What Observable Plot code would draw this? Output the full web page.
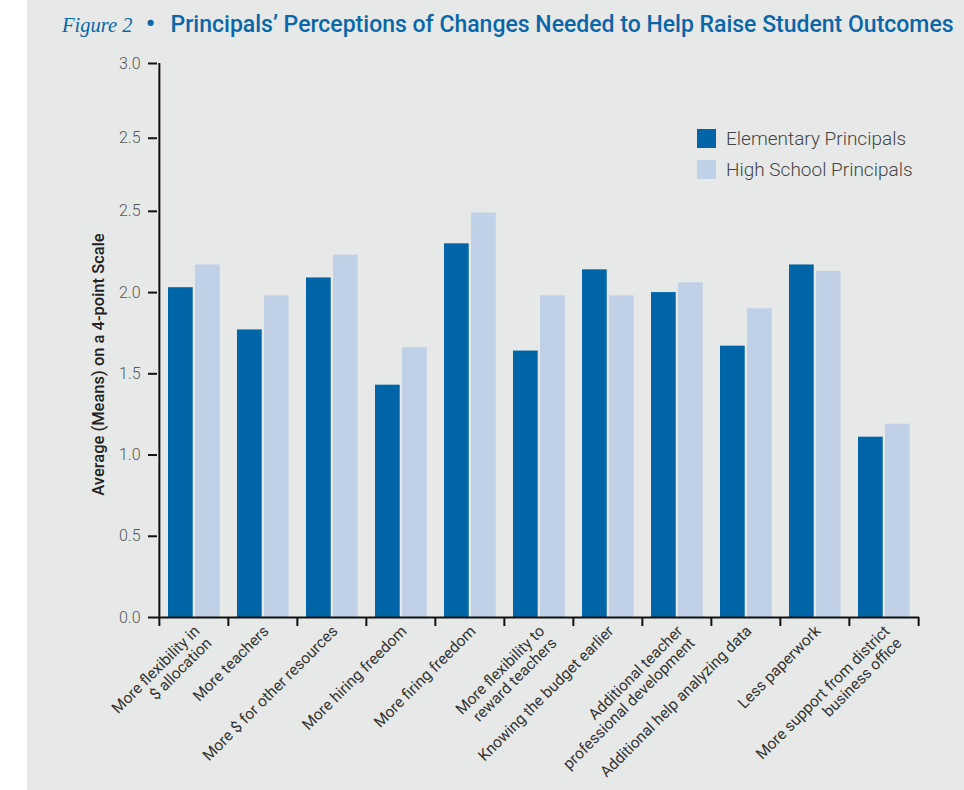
<!DOCTYPE html>
<html>
<head>
<meta charset="utf-8">
<script src="https://cdn.jsdelivr.net/npm/d3@7"></script>
<script src="https://cdn.jsdelivr.net/npm/@observablehq/plot@0.6"></script>
<style>
  html, body { margin: 0; padding: 0; background: #ffffff; }
  body { width: 964px; height: 790px; position: relative; overflow: hidden; font-family: Roboto, "Noto Sans", sans-serif; }
  #panel { position: absolute; left: 27px; top: 0; width: 937px; height: 790px; background: #e7e9e8; }
  #title { position: absolute; left: 62px; top: 7px; white-space: nowrap; color: #0a66a8; line-height: 30px; }
  #title .fig { font-family: "Liberation Serif", serif; font-style: italic; font-size: 20.5px; }
  #title .dot { font-size: 30px; margin: 0 15px 0 13px; position: relative; top: 2px; }
  #title .main { font-family: Roboto, sans-serif; font-weight: 500; font-size: 23px; }
  #chart { position: absolute; left: 0; top: 45px; }
  #legend { position: absolute; left: 697px; top: 129px; }
  #legend .item { display: flex; align-items: center; height: 19px; margin-bottom: 12px; font-size: 19px; color: #444; font-weight: 300; white-space: nowrap; }
  #legend .sw { width: 19px; height: 19px; margin-right: 10px; flex: none; }
</style>
</head>
<body>
<div id="panel"></div>
<div id="title"><span class="fig">Figure 2</span><span class="dot">•</span><span class="main">Principals’ Perceptions of Changes Needed to Help Raise Student Outcomes</span></div>
<div id="chart"></div>
<div id="legend"></div>
<script>
const categories = [
  "More flexibility in\n$ allocation",
  "More teachers",
  "More $ for other resources",
  "More hiring freedom",
  "More firing freedom",
  "More flexibility to\nreward teachers",
  "Knowing the budget earlier",
  "Additional teacher\nprofessional development",
  "Additional help analyzing data",
  "Less paperwork",
  "More support from district\nbusiness office"
];
const series = ["Elementary Principals", "High School Principals"];
const colors = ["#0065a6", "#c0d1e7"];
const elementary = [2.03, 1.77, 2.09, 1.43, 2.30, 1.64, 2.14, 2.00, 1.67, 2.17, 1.11];
const highSchool = [2.17, 1.98, 2.23, 1.66, 2.49, 1.98, 1.98, 2.06, 1.90, 2.13, 1.19];
const yTickValues = [0, 0.5, 1.0, 1.5, 2.0, 2.5, 2.95, 3.41];
const yTickLabels = ["0.0", "0.5", "1.0", "1.5", "2.0", "2.5", "2.5", "3.0"];
const yLabel = "Average (Means) on a 4-point Scale";

const elemData = categories.map((c, i) => ({category: c, value: elementary[i]}));
const hsData = categories.map((c, i) => ({category: c, value: highSchool[i]}));
const yLabelMap = new Map(yTickValues.map((v, i) => [v, yTickLabels[i]]));

const W = 964, H = 745, mL = 157, mR = 45;
const bw = (W - mL - mR) / categories.length;
const axisColor = "#111";

const chart = Plot.plot({
  width: W,
  height: H,
  marginLeft: mL,
  marginRight: mR,
  marginTop: 18,
  marginBottom: 173,
  style: {background: "transparent", fontFamily: "Roboto, sans-serif"},
  x: {type: "band", domain: categories, padding: 0, axis: null, label: null},
  y: {domain: [0, yTickValues[yTickValues.length - 1]], axis: null, label: null},
  marks: [
    Plot.barY(elemData, {x: "category", y: "value", fill: colors[0], insetLeft: 9, insetRight: bw - 34}),
    Plot.barY(hsData, {x: "category", y: "value", fill: colors[1], insetLeft: 36, insetRight: bw - 61}),
    Plot.ruleY([0], {stroke: axisColor, strokeWidth: 2}),
    Plot.ruleX([categories[0]], {dx: -bw / 2, y1: 0, y2: yTickValues[yTickValues.length - 1], stroke: axisColor, strokeWidth: 2}),
    Plot.axisX({tickSize: 9, tickFormat: () => "", dx: -bw / 2, stroke: axisColor, strokeWidth: 2, label: null}),
    Plot.axisX({ticks: [categories[categories.length - 1]], tickSize: 9, tickFormat: () => "", dx: bw / 2, stroke: axisColor, strokeWidth: 2, label: null}),
    Plot.axisX({tickSize: 0, tickPadding: 3, tickRotate: -45, textAnchor: "end", lineAnchor: "top", lineHeight: 1.1,
      fontSize: 15.5, fill: "#333", fontWeight: 400, dx: -2, dy: 3, label: null}),
    Plot.axisY({ticks: yTickValues, tickFormat: d => yLabelMap.get(d), tickSize: 9, tickPadding: 8,
      fontSize: 16, fill: "#555", fontWeight: 300, stroke: axisColor, strokeWidth: 2, label: null}),
    Plot.text([yLabel], {frameAnchor: "left", rotate: -90, dx: -59, dy: 24, fontSize: 16.5, fontWeight: 500, fill: "#222", textAnchor: "middle", lineAnchor: "middle"})
  ]
});
document.getElementById("chart").appendChild(chart);

const legend = document.getElementById("legend");
series.forEach((s, i) => {
  const item = document.createElement("div");
  item.className = "item";
  const sw = document.createElement("div");
  sw.className = "sw";
  sw.style.background = colors[i];
  const t = document.createElement("span");
  t.textContent = s;
  item.appendChild(sw);
  item.appendChild(t);
  legend.appendChild(item);
});
</script>
</body>
</html>
